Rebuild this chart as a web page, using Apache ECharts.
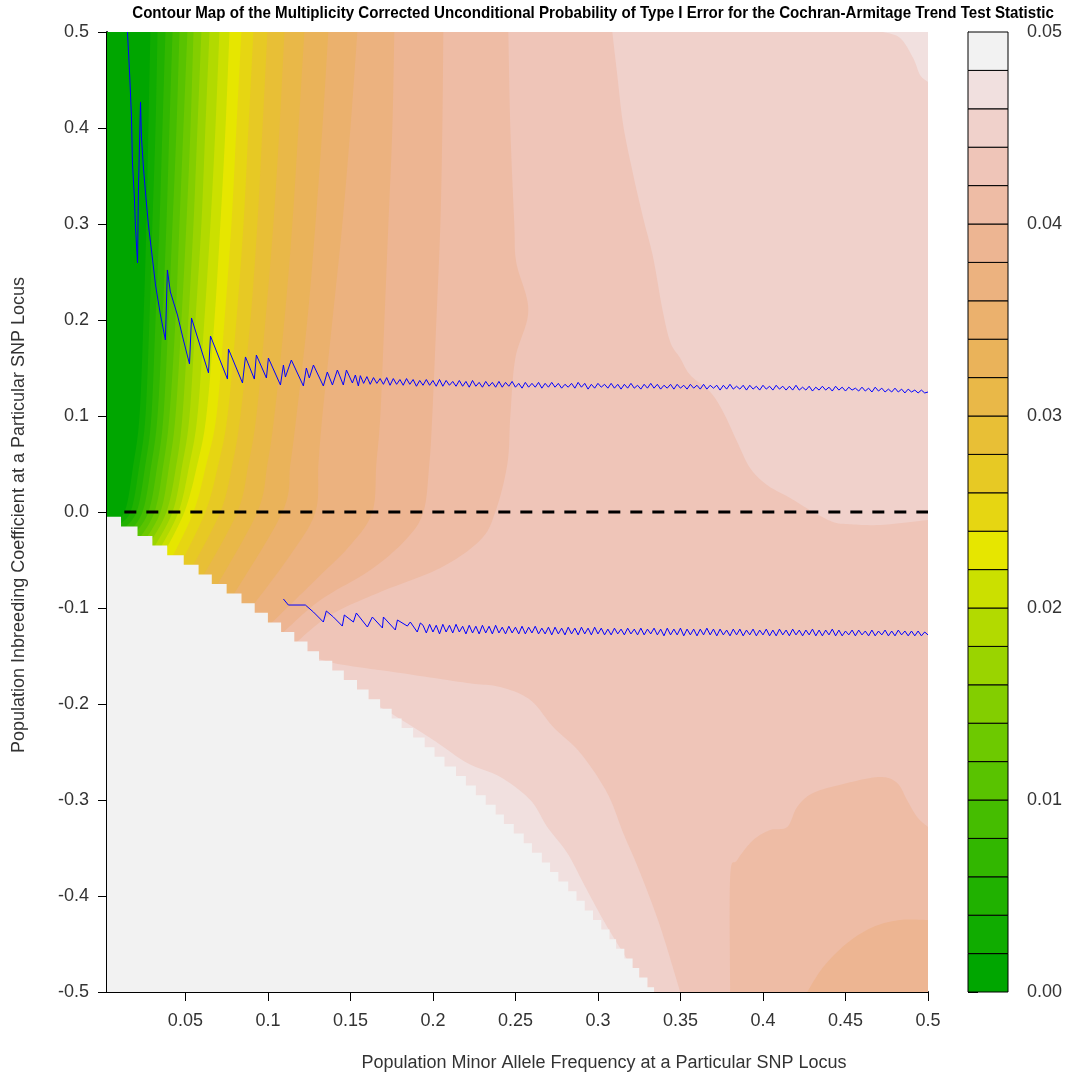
<!DOCTYPE html>
<html>
<head>
<meta charset="utf-8">
<script src="https://cdn.jsdelivr.net/npm/echarts@6/dist/echarts.min.js"></script>
<style>
  html, body { margin: 0; padding: 0; background: #ffffff; }
  #chart { width: 1086px; height: 1078px; }
</style>
</head>
<body>
<div id="chart"></div>
<script>
// ---- contour levels: band i spans levels[i] .. levels[i+1] ----
const levels = [0, 0.002, 0.004, 0.006, 0.008, 0.010, 0.012, 0.014, 0.016, 0.018, 0.020,
  0.022, 0.024, 0.026, 0.028, 0.030, 0.032, 0.034, 0.036, 0.038, 0.040,
  0.042, 0.044, 0.046, 0.048, 0.050];

// terrain palette, one colour per band
const bandColors = ['#00A600', '#10AC00', '#20B100', '#32B700', '#45BD00', '#59C300', '#6DC900',
  '#83CE00', '#9AD400', '#B2DA00', '#CBE000', '#E6E600', '#E6D612', '#E7C924', '#E8BF36',
  '#E9B848', '#EAB35A', '#EBB16D', '#ECB27F', '#EDB592', '#EEBCA5', '#EFC5B8', '#F0D1CB',
  '#F1E0DF', '#F2F2F2'];

// iso-lines for levels 0.002 .. 0.042, each as [allele frequency, inbreeding coefficient]
const isolines = [
  [[0.0288,0.5],[0.0276,0.4],[0.0264,0.3],[0.0246,0.2],[0.0222,0.1],[0.0185,0.05],[0.0131,0],[0.0034,-0.0104]],
  [[0.0331,0.5],[0.0319,0.4],[0.0300,0.3],[0.0282,0.2],[0.0258,0.1],[0.0222,0.05],[0.0167,0],[0.0070,-0.0156]],
  [[0.0379,0.5],[0.0361,0.4],[0.0343,0.3],[0.0319,0.2],[0.0294,0.1],[0.0258,0.05],[0.0204,0],[0.0107,-0.0198]],
  [[0.0422,0.5],[0.0403,0.4],[0.0385,0.3],[0.0361,0.2],[0.0331,0.1],[0.0294,0.05],[0.0240,0],[0.0143,-0.0240]],
  [[0.0464,0.5],[0.0446,0.4],[0.0422,0.3],[0.0397,0.2],[0.0367,0.1],[0.0331,0.05],[0.0276,0],[0.0173,-0.0271]],
  [[0.0512,0.5],[0.0488,0.4],[0.0464,0.3],[0.0440,0.2],[0.0403,0.1],[0.0367,0.05],[0.0313,0],[0.0210,-0.0302]],
  [[0.0549,0.5],[0.0531,0.4],[0.0506,0.3],[0.0476,0.2],[0.0440,0.1],[0.0403,0.05],[0.0349,0],[0.0240,-0.0333]],
  [[0.0597,0.5],[0.0573,0.4],[0.0549,0.3],[0.0518,0.2],[0.0482,0.1],[0.0446,0.05],[0.0385,0],[0.0270,-0.0365]],
  [[0.0646,0.5],[0.0621,0.4],[0.0597,0.3],[0.0561,0.2],[0.0525,0.1],[0.0482,0.05],[0.0422,0],[0.0300,-0.0396]],
  [[0.0706,0.5],[0.0682,0.4],[0.0652,0.3],[0.0615,0.2],[0.0573,0.1],[0.0525,0.05],[0.0458,0],[0.0331,-0.0427]],
  [[0.0767,0.5],[0.0743,0.4],[0.0712,0.3],[0.0676,0.2],[0.0627,0.1],[0.0573,0.05],[0.0494,0],[0.0361,-0.0458]],
  [[0.0839,0.5],[0.0809,0.4],[0.0779,0.3],[0.0737,0.2],[0.0688,0.1],[0.0627,0.05],[0.0549,0],[0.0409,-0.0510]],
  [[0.0912,0.5],[0.0882,0.4],[0.0852,0.3],[0.0809,0.2],[0.0755,0.1],[0.0700,0.05],[0.0621,0],[0.0464,-0.0563]],
  [[0.0997,0.5],[0.0967,0.4],[0.0936,0.3],[0.0894,0.2],[0.0833,0.1],[0.0785,0.05],[0.0712,0],[0.0525,-0.0625]],
  [[0.1100,0.5],[0.1070,0.4],[0.1033,0.3],[0.0985,0.2],[0.0930,0.1],[0.0882,0.05],[0.0815,0],[0.0597,-0.0698]],
  [[0.1221,0.5],[0.1185,0.4],[0.1148,0.3],[0.1100,0.2],[0.1039,0.1],[0.0997,0.05],[0.0936,0],[0.0682,-0.0792]],
  [[0.1366,0.5],[0.1330,0.4],[0.1288,0.3],[0.1239,0.2],[0.1173,0.1],[0.1136,0.05],[0.1088,0],[0.0779,-0.0896]],
  [[0.1542,0.5],[0.1500,0.4],[0.1451,0.3],[0.1391,0.2],[0.1330,0.1],[0.1306,0.05],[0.1288,0],[0.1136,-0.0448],[0.0888,-0.1021]],
  [[0.1766,0.5],[0.1754,0.4],[0.1730,0.3],[0.1706,0.2],[0.1681,0.1],[0.1657,0.05],[0.1633,0],[0.1500,-0.0344],[0.1288,-0.0708],[0.1015,-0.1167]],
  [[0.2063,0.5],[0.2057,0.4],[0.2045,0.3],[0.2021,0.2],[0.1996,0.1],[0.1978,0.05],[0.1942,0],[0.1833,-0.0292],[0.1621,-0.0604],[0.1318,-0.0917],[0.1094,-0.125]],
  [[0.2457,0.5],[0.2469,0.4],[0.2493,0.3],[0.2505,0.26],[0.2578,0.21],[0.2499,0.16],[0.2469,0.1],[0.2451,0.05],[0.2378,0],[0.2287,-0.0292],[0.2045,-0.0583],[0.1681,-0.0833],[0.1379,-0.1073],[0.1167,-0.1365]]
];

// 0.044 iso-line bounding the pale region on the upper right
const upperRightEdge = [[0.3087,0.5],[0.3117,0.4552],[0.3153,0.4031],[0.3214,0.3510],[0.3274,0.3063],
  [0.3335,0.2646],[0.3389,0.2125],[0.3438,0.1771],[0.3498,0.1604],[0.3559,0.1427],[0.3680,0.1250],
  [0.3759,0.1042],[0.3844,0.0729],[0.3922,0.0458],[0.4025,0.0281],[0.4165,0.0146],[0.4304,0.0],
  [0.4425,-0.0104],[0.4510,-0.0125],[0.4710,-0.0135],[0.5,-0.0083]];
// 0.046 iso-line in the top right corner
const topRightEdge = [[0.4728,0.5],[0.4831,0.4938],[0.4910,0.4729],[0.4952,0.4552],[0.5,0.4479]];
// 0.044 and 0.046 iso-lines along the lower feasibility edge
const lowerEdge044 = [[0.1197,-0.1458],[0.1397,-0.1573],[0.1803,-0.1677],[0.2208,-0.1781],[0.2408,-0.1823],
  [0.2590,-0.1958],[0.2729,-0.2240],[0.2893,-0.2510],[0.3056,-0.2927],[0.3153,-0.3344],[0.3256,-0.3760],
  [0.3378,-0.4323],[0.3498,-0.5]];
const lowerEdge046 = [[0.1650,-0.2010],[0.1742,-0.2094],[0.2002,-0.2375],[0.2208,-0.2615],[0.2408,-0.2760],
  [0.2590,-0.3],[0.2693,-0.3281],[0.2814,-0.3552],[0.2911,-0.3865],[0.3032,-0.425],[0.3153,-0.4594],
  [0.3299,-0.5]];
// 0.042 and 0.040 iso-lines in the bottom right corner
const bottomRightEdge042 = [[0.3801,-0.5],[0.3801,-0.3802],[0.3844,-0.3625],[0.3941,-0.3417],[0.4044,-0.3313],
  [0.4147,-0.3281],[0.4207,-0.3073],[0.4304,-0.2927],[0.4510,-0.2823],[0.4710,-0.2760],[0.4813,-0.2823],
  [0.4873,-0.3],[0.4934,-0.3177],[0.5,-0.3281]];
const bottomRightEdge040 = [[0.4268,-0.5],[0.4365,-0.4740],[0.4510,-0.4490],[0.4667,-0.4323],[0.4831,-0.425],[0.5,-0.425]];

// undefined region: each step is [top of row, smallest feasible allele frequency in that row]
const maskSteps = [[-0.005,0.011],[-0.015,0.021],[-0.025,0.030],[-0.035,0.039],[-0.045,0.049],
  [-0.055,0.058],[-0.065,0.066],[-0.075,0.075],[-0.085,0.084],[-0.095,0.092],[-0.105,0.100],
  [-0.115,0.108],[-0.125,0.116],[-0.135,0.124],[-0.145,0.131],[-0.155,0.139],[-0.165,0.146],
  [-0.175,0.154],[-0.185,0.161],[-0.195,0.168],[-0.205,0.175],[-0.215,0.181],[-0.225,0.188],
  [-0.235,0.195],[-0.245,0.201],[-0.255,0.207],[-0.265,0.214],[-0.275,0.220],[-0.285,0.226],
  [-0.295,0.232],[-0.305,0.238],[-0.315,0.243],[-0.325,0.249],[-0.335,0.255],[-0.345,0.260],
  [-0.355,0.266],[-0.365,0.271],[-0.375,0.276],[-0.385,0.282],[-0.395,0.287],[-0.405,0.292],
  [-0.415,0.297],[-0.425,0.302],[-0.435,0.307],[-0.445,0.311],[-0.455,0.316],[-0.465,0.321],
  [-0.475,0.325],[-0.485,0.330],[-0.495,0.334]];

// 0.05 crossing, upper branch: irregular head, then a sampled tail
const upperHead = [[0.0149,0.5],[0.0161,0.4604],[0.0173,0.4135],[0.0179,0.3646],[0.0191,0.3271],[0.0197,0.2990],
  [0.0210,0.2594],[0.0216,0.3406],[0.0228,0.4271],[0.0234,0.3896],[0.0246,0.3583],[0.0258,0.3333],
  [0.0276,0.2990],[0.0300,0.2646],[0.0319,0.2365],[0.0349,0.2052],[0.0379,0.1792],[0.0391,0.2521],
  [0.0409,0.2292],[0.0452,0.2052],[0.0488,0.1792],[0.0525,0.1542],[0.0537,0.2021],[0.0640,0.1448],
  [0.0652,0.1833],[0.0755,0.1385],[0.0761,0.1698],[0.0846,0.1344],[0.0864,0.1615],[0.0918,0.1385],
  [0.0930,0.1635],[0.0991,0.1396],[0.1003,0.1604],[0.1076,0.1323],[0.1094,0.1531],[0.1106,0.1406],
  [0.1142,0.1583],[0.1215,0.1313],[0.1233,0.1500],[0.1251,0.1396],[0.1276,0.1531],[0.1336,0.1313],
  [0.1360,0.1458],[0.1391,0.1323],[0.1421,0.1479],[0.1457,0.1323],[0.1476,0.1479],[0.1512,0.1344],
  [0.1530,0.1427],[0.1548,0.1313]];
const upperTailStart = 0.156, upperTailStep = 0.002;
const upperTailF = [
  0.142,0.134,0.141,0.133,0.140,0.134,0.139,0.133,0.140,0.132,
  0.139,0.133,0.138,0.132,0.139,0.133,0.138,0.131,0.137,0.132,
  0.138,0.132,0.137,0.131,0.138,0.131,0.137,0.132,0.136,0.131,
  0.137,0.131,0.136,0.130,0.137,0.131,0.135,0.130,0.136,0.131,
  0.135,0.130,0.136,0.130,0.135,0.131,0.136,0.130,0.134,0.129,
  0.135,0.130,0.134,0.130,0.135,0.129,0.134,0.130,0.135,0.130,
  0.134,0.129,0.133,0.130,0.134,0.129,0.135,0.130,0.134,0.128,
  0.133,0.129,0.134,0.130,0.133,0.129,0.134,0.129,0.133,0.128,
  0.133,0.129,0.134,0.129,0.132,0.128,0.133,0.129,0.134,0.129,
  0.133,0.128,0.132,0.129,0.133,0.128,0.133,0.129,0.132,0.128,
  0.133,0.129,0.132,0.128,0.133,0.128,0.132,0.129,0.132,0.127,
  0.132,0.128,0.133,0.128,0.131,0.128,0.132,0.127,0.132,0.128,
  0.131,0.127,0.132,0.128,0.131,0.127,0.132,0.128,0.131,0.127,
  0.131,0.127,0.132,0.127,0.130,0.127,0.131,0.126,0.130,0.127,
  0.131,0.127,0.130,0.126,0.131,0.127,0.130,0.126,0.130,0.127,
  0.129,0.126,0.130,0.126,0.129,0.125,0.130,0.126,0.129,0.125,
  0.128,0.125,0.129,0.125,0.128,0.124,0.128,0.125,0.127,0.124,
  0.127,0.124,0.125];

// 0.05 crossing, lower branch
const lowerHead = [[0.1094,-0.0906],[0.1124,-0.0969],[0.1227,-0.0969],[0.1276,-0.1042],[0.1336,-0.1146],
  [0.1354,-0.1031],[0.1397,-0.1094],[0.1451,-0.1188],[0.1463,-0.1073],[0.1518,-0.1146],[0.1536,-0.1052],
  [0.1603,-0.1198],[0.1633,-0.1094],[0.1694,-0.1208],[0.1700,-0.1094],[0.1772,-0.1229],[0.1785,-0.1125],
  [0.1845,-0.1188],[0.1863,-0.1146],[0.1905,-0.1250],[0.1924,-0.1156]];
const lowerTailStart = 0.194, lowerTailStep = 0.002;
const lowerTailF = [
  -0.118,-0.126,-0.117,-0.125,-0.118,-0.127,-0.117,-0.125,-0.118,-0.126,
  -0.117,-0.125,-0.119,-0.127,-0.118,-0.126,-0.119,-0.127,-0.118,-0.126,
  -0.119,-0.127,-0.118,-0.126,-0.120,-0.127,-0.119,-0.126,-0.120,-0.127,
  -0.119,-0.127,-0.120,-0.126,-0.119,-0.127,-0.121,-0.127,-0.120,-0.128,
  -0.120,-0.127,-0.121,-0.128,-0.120,-0.127,-0.121,-0.128,-0.120,-0.127,
  -0.121,-0.128,-0.120,-0.127,-0.121,-0.128,-0.122,-0.128,-0.121,-0.127,
  -0.122,-0.128,-0.121,-0.127,-0.122,-0.128,-0.121,-0.128,-0.122,-0.127,
  -0.121,-0.128,-0.122,-0.129,-0.121,-0.128,-0.122,-0.128,-0.121,-0.129,
  -0.122,-0.128,-0.122,-0.129,-0.122,-0.128,-0.121,-0.128,-0.122,-0.129,
  -0.122,-0.128,-0.123,-0.129,-0.122,-0.128,-0.122,-0.129,-0.123,-0.128,
  -0.122,-0.129,-0.123,-0.128,-0.122,-0.129,-0.123,-0.129,-0.122,-0.128,
  -0.123,-0.129,-0.122,-0.128,-0.123,-0.129,-0.123,-0.128,-0.122,-0.129,
  -0.123,-0.129,-0.123,-0.128,-0.122,-0.129,-0.123,-0.129,-0.124,-0.128,
  -0.123,-0.129,-0.123,-0.128,-0.124,-0.129,-0.123,-0.129,-0.124,-0.128,
  -0.123,-0.129,-0.124,-0.129,-0.123,-0.128,-0.124,-0.129,-0.124,-0.129,
  -0.124,-0.129,-0.125,-0.128];

// reference line F = 0
const zeroLine = [[0.013, 0], [0.5, 0]];

const xTicks = [0.05, 0.1, 0.15, 0.2, 0.25, 0.3, 0.35, 0.4, 0.45, 0.5];
const xMin = 0.0025, xMax = 0.5, yMin = -0.5, yMax = 0.5;

// ---- assemble filled regions, painted in order ----
const regions = [];
regions.push({ color: bandColors[21], curve: [], close: [[xMin, yMin], [xMax, yMin], [xMax, yMax], [xMin, yMax]] });
regions.push({ color: bandColors[22], curve: upperRightEdge, close: [[xMax, yMax]] });
regions.push({ color: bandColors[23], curve: topRightEdge, close: [[xMax, yMax]] });
regions.push({ color: bandColors[22], curve: lowerEdge044, close: [[lowerEdge044[0][0], yMin]] });
regions.push({ color: bandColors[23], curve: lowerEdge046, close: [[lowerEdge046[0][0], yMin]] });
regions.push({ color: bandColors[20], curve: bottomRightEdge042, close: [[xMax, yMin]] });
regions.push({ color: bandColors[19], curve: bottomRightEdge040, close: [[xMax, yMin]] });
for (let j = isolines.length - 1; j >= 0; j--) {
  const line = isolines[j];
  const last = line[line.length - 1];
  regions.push({ color: bandColors[j], curve: line, close: [[xMin, last[1]], [xMin, yMax]] });
}
// staircase mask of infeasible (frequency, inbreeding) pairs
const maskPts = [[xMin, maskSteps[0][0]]];
maskSteps.forEach((s, i) => {
  const bottom = i + 1 < maskSteps.length ? maskSteps[i + 1][0] : yMin;
  maskPts.push([s[1], s[0]], [s[1], bottom]);
});
maskPts.push([xMin, yMin]);
regions.push({ color: '#F2F2F2', curve: [], close: maskPts });

// Catmull-Rom sampling of a pixel polyline so iso-lines render smoothly
function smoothPixels(pts, seg) {
  const n = pts.length;
  if (n < 3) return pts.slice();
  const out = [];
  for (let i = 0; i < n - 1; i++) {
    const p0 = pts[Math.max(i - 1, 0)], p1 = pts[i], p2 = pts[i + 1], p3 = pts[Math.min(i + 2, n - 1)];
    for (let s = 0; s < seg; s++) {
      const t = s / seg, t2 = t * t, t3 = t2 * t;
      const f = k => 0.5 * (2 * p1[k] + (-p0[k] + p2[k]) * t +
        (2 * p0[k] - 5 * p1[k] + 4 * p2[k] - p3[k]) * t2 +
        (-p0[k] + 3 * p1[k] - 3 * p2[k] + p3[k]) * t3);
      out.push([f(0), f(1)]);
    }
  }
  out.push(pts[n - 1]);
  return out;
}

const upperLine = upperHead.concat(upperTailF.map((f, i) => [upperTailStart + i * upperTailStep, f]));
const lowerLine = lowerHead.concat(lowerTailF.map((f, i) => [lowerTailStart + i * lowerTailStep, f]));

const FONT = "'Liberation Sans', Arial, sans-serif";
const chart = echarts.init(document.getElementById('chart'), null, { renderer: 'canvas' });

chart.setOption({
  backgroundColor: '#ffffff',
  animation: false,
  grid: [
    { left: 107, top: 32, width: 821, height: 960 },
    { left: 968, top: 32, width: 40, height: 960 }
  ],
  xAxis: [
    {
      gridIndex: 0, type: 'value', min: xMin, max: xMax,
      axisLine: { show: true, onZero: false, lineStyle: { color: '#000', width: 2 } },
      axisTick: { show: true, length: 9, customValues: xTicks, lineStyle: { color: '#000', width: 1 } },
      axisLabel: { customValues: xTicks, fontSize: 18, color: '#333', margin: 20, fontFamily: FONT },
      splitLine: { show: false }
    },
    { gridIndex: 1, type: 'value', min: 0, max: 1, show: false }
  ],
  yAxis: [
    {
      gridIndex: 0, type: 'value', min: yMin, max: yMax, interval: 0.1,
      axisLine: { show: true, onZero: false, lineStyle: { color: '#000', width: 2 } },
      axisTick: { show: true, length: 9, lineStyle: { color: '#000', width: 1 } },
      axisLabel: { fontSize: 18, color: '#333', margin: 18, fontFamily: FONT, formatter: v => v.toFixed(1) },
      splitLine: { show: false }
    },
    {
      gridIndex: 1, type: 'value', min: 0, max: 0.05, interval: 0.01, position: 'right',
      axisLine: { show: true, lineStyle: { color: '#000', width: 1 } },
      axisTick: { show: true, length: 10, lineStyle: { color: '#000', width: 1 } },
      axisLabel: { fontSize: 18, color: '#333', margin: 19, fontFamily: FONT, formatter: v => v.toFixed(2) },
      splitLine: { show: false }
    }
  ],
  series: [
    {
      type: 'custom', xAxisIndex: 0, yAxisIndex: 0, clip: true, silent: true,
      data: regions.map((r, i) => i),
      renderItem: (params, api) => {
        const r = regions[params.dataIndex];
        const curve = smoothPixels(r.curve.map(d => api.coord(d)), 12);
        const pts = curve.concat(r.close.map(d => api.coord(d)));
        return { type: 'polygon', shape: { points: pts }, style: { fill: r.color } };
      }
    },
    {
      type: 'line', xAxisIndex: 0, yAxisIndex: 0, data: zeroLine, symbol: 'none', silent: true,
      lineStyle: { color: '#000', width: 3, type: [12, 10] }, z: 5
    },
    {
      type: 'line', xAxisIndex: 0, yAxisIndex: 0, data: upperLine, symbol: 'none', silent: true,
      lineStyle: { color: '#0000FF', width: 1 }, z: 6
    },
    {
      type: 'line', xAxisIndex: 0, yAxisIndex: 0, data: lowerLine, symbol: 'none', silent: true,
      lineStyle: { color: '#0000FF', width: 1 }, z: 6
    },
    {
      type: 'custom', xAxisIndex: 1, yAxisIndex: 1, silent: true,
      data: bandColors.map((c, i) => i),
      renderItem: (params, api) => {
        const i = params.dataIndex;
        const a = api.coord([0, levels[i]]), b = api.coord([1, levels[i + 1]]);
        return {
          type: 'rect',
          shape: { x: a[0], y: b[1], width: b[0] - a[0], height: a[1] - b[1] },
          style: { fill: bandColors[i], stroke: '#000', lineWidth: 1 }
        };
      }
    }
  ],
  graphic: [
    {
      type: 'text', x: 593, y: 13, scaleX: 0.89,
      style: {
        text: 'Contour Map of the Multiplicity Corrected Unconditional Probability of Type I Error for the Cochran-Armitage Trend Test Statistic',
        font: "bold 17px 'Liberation Sans', Arial, sans-serif",
        fill: '#000', textAlign: 'center', textVerticalAlign: 'middle'
      }
    },
    {
      type: 'text', x: 604, y: 1063,
      style: {
        text: 'Population Minor Allele Frequency at a Particular SNP Locus',
        font: '18px ' + FONT, fill: '#333', textAlign: 'center', textVerticalAlign: 'middle'
      }
    },
    {
      type: 'text', x: 19, y: 515, rotation: Math.PI / 2,
      style: {
        text: 'Population Inbreeding Coefficient at a Particular SNP Locus',
        font: '18px ' + FONT, fill: '#333', textAlign: 'center', textVerticalAlign: 'middle'
      }
    }
  ]
});
</script>
</body>
</html>
